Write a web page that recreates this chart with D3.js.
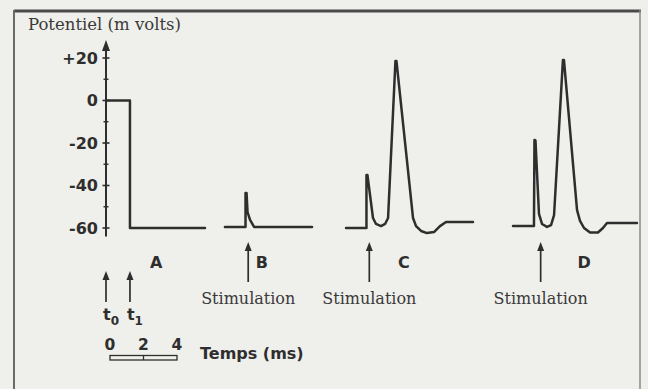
<!DOCTYPE html>
<html><head><meta charset="utf-8">
<script src="https://cdn.jsdelivr.net/npm/d3@7"></script>
<style>
html,body{margin:0;padding:0;background:#efefeb;}
svg{display:block;}
</style></head><body>
<svg id="chart" width="648" height="389"></svg>
<script>
// Membrane potential recordings: time in ms, potential in mV
const traceA_t = [0, 1.43, 1.43, 5.91];
const traceA_v = [0, 0, -60, -60];
const traceB_t = [7.10, 8.33, 8.33, 8.39, 8.45, 8.60, 8.84, 12.30];
const traceB_v = [-59.5, -59.5, -43.5, -43.5, -52.5, -56.2, -59.5, -59.5];
const traceC_t = [14.33, 15.55, 15.55, 15.61, 15.94, 16.12, 16.42, 16.66, 16.84, 17.28, 17.34, 18.33, 18.51, 18.81, 19.16, 19.58, 19.94, 20.30, 21.91];
const traceC_v = [-60, -60, -35.1, -35.1, -55.3, -58.1, -59.1, -58.1, -55.3, 18.6, 18.6, -55.3, -59.1, -61.4, -62.4, -61.9, -59.1, -57.2, -57.2];
const traceD_t = [24.30, 25.55, 25.58, 25.64, 25.85, 26.03, 26.33, 26.57, 26.75, 27.28, 27.34, 28.12, 28.30, 28.54, 28.90, 29.37, 29.67, 29.91, 31.70];
const traceD_v = [-59, -59, -18.6, -18.8, -53.4, -58.1, -59.5, -58.6, -53.9, 19.1, 19.1, -51.5, -56.7, -60, -62.1, -62.1, -60, -57.6, -57.6];

const traceNames = ["A", "B", "C", "D"];
const stimTimes = [8.49, 15.72, 25.95];        // stimulation instants (ms)
const markTimes = [0, 1.43];                   // t0, t1
const markNames = ["0", "1"];
const yMajorTicks = [20, 0, -20, -40, -60];
const yMinorTicks = [10, -10, -30, -50];
const scaleBarTicks = [0, 2, 4];

// layout
const labelTimes = [2.99, 9.31, 17.79, 28.54];  // where the A..D letters sit

const svg = d3.select("#chart");
const ink = "#2e2e2e";
const sans = "'DejaVu Sans', sans-serif";
const serif = "'DejaVu Serif', serif";

const x = d3.scaleLinear().domain([0, 31.8]).range([106, 106 + 31.8 * 16.75]);
const y = d3.scaleLinear().domain([-60, 20]).range([228, 58]);

// frame
svg.append("line").attr("x1", 14).attr("x2", 641).attr("y1", 11).attr("y2", 11)
  .attr("stroke", "#4a4a4a").attr("stroke-width", 3);
svg.append("line").attr("x1", 14).attr("x2", 14).attr("y1", 10).attr("y2", 389)
  .attr("stroke", "#6a6a6a").attr("stroke-width", 2);
svg.append("line").attr("x1", 640).attr("x2", 640).attr("y1", 10).attr("y2", 389)
  .attr("stroke", "#8a8a8a").attr("stroke-width", 1.5);

// axis title
svg.append("text").attr("x", 28).attr("y", 30)
  .attr("font-family", serif).attr("font-size", 16.5).attr("fill", "#3a3a3a")
  .text("Potentiel (m volts)");

// y axis
const axisTop = y(28.5), axisBottom = y(-64);
const ax = svg.append("g").attr("transform", `translate(${x(0)},0)`)
  .call(d3.axisLeft(y).tickValues(yMajorTicks).tickSize(0).tickPadding(8)
    .tickFormat(d => d > 0 ? "+" + d : String(d)));
ax.select(".domain").remove();
ax.selectAll("text").attr("font-family", sans).attr("font-weight", "bold")
  .attr("font-size", 16).attr("fill", ink);

svg.append("line").attr("x1", x(0)).attr("x2", x(0))
  .attr("y1", axisTop + 6).attr("y2", axisBottom)
  .attr("stroke", ink).attr("stroke-width", 2);
svg.append("path")
  .attr("d", `M${x(0)},${axisTop} L${x(0) - 4},${axisTop + 11} L${x(0) + 4},${axisTop + 11} Z`)
  .attr("fill", ink);
svg.selectAll(".ymaj").data(yMajorTicks).join("line")
  .attr("x1", x(0) - 3.5).attr("x2", x(0) + 3.5)
  .attr("y1", d => y(d)).attr("y2", d => y(d))
  .attr("stroke", ink).attr("stroke-width", 1.6);
svg.selectAll(".ymin").data(yMinorTicks).join("line")
  .attr("x1", x(0) - 2.5).attr("x2", x(0) + 2.5)
  .attr("y1", d => y(d)).attr("y2", d => y(d))
  .attr("stroke", ink).attr("stroke-width", 1.4);

// traces
const line = d3.line().x(d => x(d[0])).y(d => y(d[1]));
const traces = [
  d3.zip(traceA_t, traceA_v),
  d3.zip(traceB_t, traceB_v),
  d3.zip(traceC_t, traceC_v),
  d3.zip(traceD_t, traceD_v)
];
svg.selectAll(".trace").data(traces).join("path")
  .attr("d", line).attr("fill", "none")
  .attr("stroke", ink).attr("stroke-width", 2.5)
  .attr("stroke-linejoin", "round").attr("stroke-linecap", "round");

// trace letters
svg.selectAll(".tname").data(traceNames).join("text")
  .attr("x", (d, i) => x(labelTimes[i])).attr("y", 268)
  .attr("text-anchor", "middle")
  .attr("font-family", sans).attr("font-weight", "bold").attr("font-size", 16)
  .attr("fill", ink).text(d => d);

// upward arrows
function arrow(g, cx, top, bottom) {
  g.append("line").attr("x1", cx).attr("x2", cx).attr("y1", top + 6).attr("y2", bottom)
    .attr("stroke", ink).attr("stroke-width", 1.7);
  g.append("path")
    .attr("d", `M${cx},${top} L${cx - 3.5},${top + 9} L${cx + 3.5},${top + 9} Z`)
    .attr("fill", ink);
}

// stimulation arrows
stimTimes.forEach(t => {
  arrow(svg, x(t), 242, 282);
  svg.append("text").attr("x", x(t)).attr("y", 303.5)
    .attr("text-anchor", "middle")
    .attr("font-family", serif).attr("font-size", 16).attr("fill", "#3a3a3a")
    .text("Stimulation");
});

// t0 / t1 markers
markTimes.forEach((t, i) => {
  arrow(svg, x(t), 271, 302);
  const tx = svg.append("text").attr("x", x(t) - 3).attr("y", 320)
    .attr("font-family", sans).attr("font-weight", "bold").attr("font-size", 16)
    .attr("fill", ink);
  tx.append("tspan").text("t");
  tx.append("tspan").attr("font-size", 12).attr("dy", 5).text(markNames[i]);
});

// time scale bar (0-4 ms)
const barX0 = 110, pxPerMs = x(1) - x(0);
const bx = d => barX0 + d * pxPerMs;
svg.append("rect").attr("x", bx(0)).attr("y", 355.5)
  .attr("width", bx(4) - bx(0)).attr("height", 4.5)
  .attr("fill", "none").attr("stroke", ink).attr("stroke-width", 1.3);
svg.append("line").attr("x1", bx(2)).attr("x2", bx(2)).attr("y1", 355).attr("y2", 360)
  .attr("stroke", ink).attr("stroke-width", 1.3);
svg.selectAll(".sb").data(scaleBarTicks).join("text")
  .attr("x", d => bx(d)).attr("y", 350).attr("text-anchor", "middle")
  .attr("font-family", sans).attr("font-weight", "bold").attr("font-size", 15.5)
  .attr("fill", ink).text(d => d);
svg.append("text").attr("x", 200).attr("y", 358.5)
  .attr("font-family", sans).attr("font-weight", "bold").attr("font-size", 16)
  .attr("fill", ink).text("Temps (ms)");
</script>
</body></html>
